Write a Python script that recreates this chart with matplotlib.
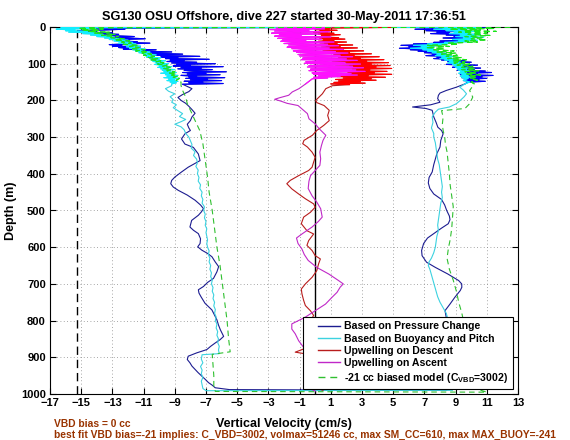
import numpy as np
import matplotlib.pyplot as plt
from matplotlib.lines import Line2D
from matplotlib.legend_handler import HandlerLine2D

plt.rcParams['font.family'] = ['Liberation Sans', 'DejaVu Sans']
plt.rcParams['font.weight'] = 'bold'
plt.rcParams['mathtext.fontset'] = 'custom'
plt.rcParams['mathtext.rm'] = 'Liberation Sans:bold'
plt.rcParams['mathtext.bf'] = 'Liberation Sans:bold'

title = "SG130 OSU Offshore, dive 227 started 30-May-2011 17:36:51"
vbd_note = "VBD bias = 0 cc"
fit_note = ("best fit VBD bias=-21 implies: C_VBD=3002, volmax=51246 cc, "
            "max SM_CC=610, max MAX_BUOY=-241")
labels = ["Based on Pressure Change", "Based on Buoyancy and Pitch",
          "Upwelling on Descent", "Upwelling on Ascent",
          r"-21 cc biased model (C$_{\mathrm{VBD}}$=3002)"]
vbd_bias_line = -15.3

# (depth m, vertical velocity cm/s)
pressure_dn = [(0.5, 11.0), (2, -9.0), (4, -14.0), (6, -12.2), (8, -13.5), (10, -15.2),
               (12, -14.0), (14, -15.3), (16, -13.0), (18, -14.2), (20, -12.6), (22, -13.5),
               (24, -12.9), (26, -11.6), (28, -12.8), (30, -12.2), (32, -10.9), (34, -12.5),
               (36, -11.9), (38, -12.7), (40, -11.4), (42, -12.3), (44, -10.6), (46, -12.0),
               (48, -13.2), (50, -12.4), (52, -13.0), (54, -11.2), (56, -12.6), (58, -11.8),
               (60, -12.3), (62, -10.2), (64, -11.5), (66, -10.8), (68, -9.2), (70, -10.9),
               (72, -10.1), (74, -8.5), (76, -10.4), (78, -9.6), (80, -7.4), (82, -9.9),
               (84, -8.8), (86, -9.6), (88, -6.8), (90, -9.3), (92, -8.4), (94, -9.5),
               (96, -7.6), (98, -9.2), (100, -6.4), (102, -8.9), (104, -8.0), (106, -9.1),
               (108, -5.9), (110, -8.6), (112, -7.3), (114, -8.8), (116, -6.6), (118, -8.4),
               (120, -7.8), (122, -5.7), (124, -8.5), (126, -7.0), (128, -8.2), (130, -6.1),
               (132, -8.6), (134, -7.6), (136, -8.1), (138, -5.8), (140, -8.3), (142, -6.9),
               (144, -8.0), (146, -6.0), (148, -8.4), (150, -7.2), (152, -8.1), (154, -5.9),
               (156, -8.5),
               (160, -8.3), (168, -7.9), (176, -8.1), (184, -8.5), (192, -8.8), (200, -8.6),
               (208, -8.3), (216, -8.1), (225, -7.9), (235, -7.7), (245, -7.9), (255, -8.0),
               (265, -8.2), (275, -8.1), (282, -8.0), (291, -8.35), (305, -8.57), (319, -8.35),
               (328, -7.81), (346, -7.49), (364, -7.38), (382, -8.14), (396, -8.6), (409, -9.0),
               (418, -9.2), (427, -9.26), (436, -9.1), (445, -8.78), (458, -8.2), (472, -7.7),
               (485, -7.35), (495, -7.16), (504, -7.3), (513, -7.49), (527, -7.92), (545, -8.03),
               (554, -7.8), (563, -7.49), (577, -7.35), (590, -7.38), (599, -7.53), (608, -7.27),
               (617, -6.9), (626, -6.62), (640, -6.41), (653, -6.19), (667, -6.3), (685, -6.52),
               (696, -6.9), (707, -7.16), (716, -7.49), (725, -7.45), (735, -7.32), (753, -7.06),
               (771, -6.62), (785, -6.45), (798, -6.3), (812, -6.2), (825, -6.08), (843, -5.87),
               (852, -6.1), (861, -6.41), (870, -6.7), (879, -6.95), (888, -7.6), (897, -8.14),
               (906, -8.2), (915, -8.03), (924, -7.9), (933, -7.7), (942, -7.5), (951, -7.27),
               (960, -7.05), (969, -6.84), (976, -6.6), (983, -6.41), (988, -5.5)]
pressure_up = [(2, 7.5), (4, 9.2), (6, 6.4), (8, 8.3), (10, 7.1), (12, 9.0), (14, 7.8),
               (16, 8.6), (18, 7.4), (20, 9.6), (22, 8.4), (24, 10.1), (26, 8.9), (28, 9.7),
               (30, 8.2), (32, 10.0), (34, 9.1), (36, 9.6), (38, 8.0), (40, 9.3), (42, 7.6),
               (44, 8.4), (46, 6.3), (48, 7.6), (50, 5.5), (52, 7.2), (54, 6.0), (56, 7.5),
               (58, 5.4), (60, 6.9), (62, 6.1), (64, 7.4), (66, 6.6), (68, 8.0), (70, 7.0),
               (72, 8.4), (74, 7.5), (76, 8.0), (78, 7.1), (80, 8.7), (82, 7.8), (84, 8.4),
               (86, 7.6), (88, 9.0), (90, 8.1), (92, 9.6), (94, 8.5), (96, 10.0), (98, 8.7),
               (100, 9.3), (102, 8.4), (104, 10.4), (106, 9.0), (108, 9.7), (110, 8.8),
               (112, 10.6), (114, 9.4), (116, 10.2), (118, 9.1), (120, 10.9), (122, 9.6),
               (124, 11.3), (126, 9.5), (128, 10.4), (130, 9.3), (132, 11.4), (134, 9.8),
               (136, 10.7), (138, 9.4), (140, 11.0), (142, 9.7), (144, 10.5), (146, 9.5),
               (148, 10.9), (150, 9.8),
               (155, 9.6), (164, 9.05), (173, 8.4), (180, 8.0), (186, 7.9), (195, 7.85),
               (205, 8.0), (212, 7.4), (218, 6.24), (222, 7.1), (227, 7.5), (245, 7.6),
               (260, 7.75), (273, 7.86), (282, 8.1), (291, 8.2), (309, 8.05), (327, 8.0),
               (345, 7.8), (360, 7.7), (375, 7.6), (395, 7.5), (410, 7.3), (425, 7.25),
               (440, 7.35), (455, 7.6), (470, 8.1), (485, 8.3), (500, 8.43), (515, 8.6),
               (525, 8.64), (536, 8.53), (548, 8.1), (560, 7.7), (575, 7.2), (590, 6.95),
               (609, 6.82), (623, 6.85), (641, 7.14), (655, 7.7), (664, 8.1), (673, 8.5),
               (682, 8.85), (691, 9.2), (700, 9.39), (709, 9.4), (718, 9.3), (736, 8.96),
               (755, 8.64), (773, 8.32), (791, 8.4), (810, 8.6), (830, 8.8), (850, 8.9),
               (870, 9.1), (890, 9.3), (910, 9.2), (930, 9.0), (950, 8.9), (970, 8.8),
               (985, 8.6), (990, 8.4)]

buoyancy_dn = [(0.5, 10.5), (2, -16.3), (4, -14.2), (6, -16.6), (8, -15.4), (10, -16.0),
               (12, -14.6), (14, -15.8), (16, -14.0), (18, -14.9), (20, -13.6), (22, -14.4),
               (24, -13.1), (26, -14.0), (28, -12.9), (30, -13.5), (32, -12.4), (34, -13.2),
               (36, -12.0), (38, -12.9), (40, -12.3), (42, -11.7), (44, -12.6), (46, -11.5),
               (48, -12.2), (50, -11.9), (52, -11.2), (54, -12.1), (56, -11.4), (58, -11.9),
               (60, -10.9), (62, -11.7), (64, -11.1), (66, -11.5), (68, -10.6), (70, -11.3),
               (72, -10.5), (74, -11.0), (76, -10.2), (78, -10.9), (80, -10.4), (82, -10.8),
               (84, -9.9), (86, -10.6), (88, -10.0), (90, -10.5), (92, -9.6), (94, -10.4),
               (96, -9.8), (98, -10.2), (100, -9.4), (102, -10.3), (104, -9.6), (106, -10.0),
               (108, -9.2), (110, -10.1), (112, -9.4), (114, -9.9), (116, -9.0), (118, -9.8),
               (120, -9.3), (122, -9.7), (124, -8.9), (126, -9.9), (128, -9.1), (130, -9.6),
               (132, -8.8), (134, -9.5), (136, -9.0), (138, -9.7), (140, -8.8), (142, -9.4),
               (144, -9.0), (146, -9.5), (148, -8.8), (150, -9.3), (152, -8.9), (155, -9.2),
               (160, -9.2), (168, -9.6), (175, -9.4), (182, -9.0), (190, -9.3), (198, -9.1),
               (205, -9.2), (212, -8.9), (220, -9.1), (228, -8.8), (236, -8.5), (244, -8.7),
               (252, -8.3), (258, -8.6), (265, -9.0), (272, -8.6), (280, -8.4), (290, -8.3),
               (300, -8.1), (310, -8.0), (320, -7.9), (330, -7.95), (340, -7.7), (350, -7.8),
               (360, -7.6), (370, -7.55), (380, -7.65), (390, -7.5), (400, -7.55), (410, -7.45),
               (420, -7.5), (430, -7.35), (440, -7.4), (450, -7.25), (460, -7.3), (470, -7.2),
               (480, -7.25), (490, -7.1), (500, -7.15), (510, -7.05), (520, -7.1), (530, -7.0),
               (540, -7.05), (550, -6.95), (560, -7.0), (570, -6.95), (580, -6.9), (590, -6.95),
               (600, -6.9), (610, -6.8), (620, -6.85), (630, -6.75), (640, -6.8), (650, -6.7),
               (660, -6.75), (670, -6.65), (680, -6.7), (690, -6.6), (700, -6.65), (710, -6.55),
               (720, -6.6), (730, -6.5), (740, -6.55), (750, -6.45), (760, -6.5), (770, -6.4),
               (780, -6.45), (790, -6.35), (800, -6.4), (810, -6.3), (820, -6.35), (830, -6.25),
               (840, -6.3), (850, -6.2), (860, -6.25), (870, -6.15), (880, -6.2), (890, -6.15),
               (893, -7.25), (905, -7.3), (915, -7.2), (925, -7.35), (935, -7.25), (945, -7.3),
               (955, -7.2), (965, -7.3), (975, -7.25), (985, -7.2), (991, -7.0)]
buoyancy_up = [(2, 8.2), (4, 10.3), (6, 7.6), (8, 9.6), (10, 8.4), (12, 10.5), (14, 8.9),
               (16, 9.9), (18, 8.6), (20, 10.6), (22, 9.3), (24, 10.2), (26, 9.0), (28, 10.8),
               (30, 9.5), (32, 10.1), (34, 8.8), (36, 10.4), (38, 9.2), (40, 9.7), (42, 8.3),
               (44, 8.9), (46, 7.2), (48, 8.1), (50, 6.3), (52, 7.7), (54, 6.8), (56, 7.4),
               (58, 6.1), (60, 7.6), (62, 6.9), (64, 7.8), (66, 7.2), (68, 8.1), (70, 7.5),
               (72, 8.4), (74, 7.8), (76, 8.6), (78, 7.7), (80, 8.8), (82, 8.1), (84, 8.7),
               (86, 8.0), (88, 9.0), (90, 8.3), (92, 9.1), (94, 8.6), (96, 9.3), (98, 8.5),
               (100, 9.4), (102, 8.8), (104, 9.6), (106, 8.9), (108, 9.5), (110, 9.0),
               (112, 9.8), (114, 9.1), (116, 9.7), (118, 9.2), (120, 9.9), (122, 9.3),
               (124, 9.7), (126, 9.2), (128, 9.9), (130, 9.4), (132, 9.8), (134, 9.3),
               (136, 10.0), (138, 9.4), (140, 9.8), (145, 9.5), (150, 9.9), (155, 9.6),
               (164, 9.27), (172, 9.5), (182, 9.7), (190, 9.55), (200, 9.3), (209, 9.05),
               (218, 8.6), (224, 7.9), (232, 7.7), (245, 7.5), (260, 7.55), (275, 7.45),
               (290, 7.6), (300, 7.6), (315, 7.7), (330, 7.75), (345, 7.8), (360, 7.85),
               (375, 7.95), (390, 8.0), (405, 8.05), (420, 8.1), (435, 8.15), (450, 8.1),
               (465, 8.15), (480, 8.05), (495, 8.0), (510, 7.95), (525, 7.9), (540, 7.85),
               (555, 7.9), (570, 7.8), (585, 7.75), (600, 7.7), (615, 7.6), (630, 7.45),
               (640, 7.3), (650, 7.25), (660, 7.35), (675, 7.45), (690, 7.55), (705, 7.65),
               (720, 7.75), (735, 7.85), (750, 8.0), (765, 8.2), (780, 8.4), (795, 8.5),
               (810, 8.6), (830, 8.7), (850, 8.75), (870, 8.8), (890, 8.9), (910, 8.95),
               (930, 9.0), (950, 8.95), (970, 8.9), (990, 8.8)]

model_dn = [(0.5, 12.5), (2, -14.5), (4, -15.2), (6, -13.6), (8, -15.0), (10, -13.9),
            (12, -14.6), (14, -13.2), (17, -14.2), (20, -12.8), (23, -13.7), (26, -12.6),
            (29, -13.1), (32, -12.2), (35, -12.9), (38, -11.9), (41, -12.4), (44, -11.8),
            (47, -12.3), (50, -11.4), (53, -11.9), (56, -11.3), (59, -11.7), (62, -10.9),
            (65, -11.5), (68, -10.7), (71, -11.1), (74, -10.5), (77, -11.0), (80, -10.3),
            (83, -10.7), (86, -10.1), (89, -10.6), (92, -9.9), (95, -10.2), (98, -9.7),
            (101, -10.1), (104, -9.5), (107, -9.8), (110, -9.3), (113, -9.7), (116, -9.2),
            (119, -9.5), (122, -9.0), (125, -9.4), (128, -8.9), (131, -9.2), (134, -8.8),
            (137, -9.1), (140, -8.7), (145, -8.9), (150, -8.6),
            (160, -8.6), (173, -8.5), (191, -8.3), (209, -8.2), (227, -8.0), (255, -7.7),
            (282, -7.4), (318, -7.2), (364, -7.05), (409, -6.9), (450, -6.8), (500, -6.6),
            (550, -6.45), (600, -6.3), (650, -6.1), (700, -5.95), (750, -5.8), (800, -5.65),
            (850, -5.55), (885, -5.45), (892, -6.6), (920, -6.55), (950, -6.5), (980, -6.5),
            (993, -6.4)]
model_up = [(2, 9.0), (4, 11.5), (6, 8.6), (8, 10.6), (10, 9.5), (12, 11.6), (14, 9.2),
            (17, 11.0), (20, 9.8), (23, 11.2), (26, 9.6), (29, 10.7), (32, 10.0), (35, 11.0),
            (38, 9.6), (41, 10.4), (44, 8.5), (47, 9.2), (50, 7.2), (53, 8.6), (56, 7.1),
            (59, 8.3), (62, 7.6), (65, 8.9), (68, 7.8), (71, 9.0), (74, 8.1), (77, 9.1),
            (80, 8.4), (83, 9.4), (86, 8.5), (89, 9.7), (92, 8.8), (95, 9.6), (98, 8.9),
            (101, 9.9), (104, 9.1), (107, 10.1), (110, 9.4), (113, 10.3), (116, 9.4),
            (119, 10.5), (122, 9.6), (125, 10.4), (128, 9.7), (131, 10.6), (134, 9.8),
            (137, 10.4), (140, 9.9), (145, 10.4), (150, 10.0), (155, 10.2),
            (173, 9.9), (191, 10.1), (209, 9.9), (222, 9.6), (228, 8.1), (245, 8.2),
            (265, 8.15), (282, 8.2), (300, 8.3), (320, 8.35), (340, 8.45), (360, 8.5),
            (380, 8.55), (400, 8.6), (430, 8.65), (460, 8.75), (490, 8.85), (520, 8.8),
            (550, 8.75), (580, 8.65), (600, 8.55), (630, 8.45), (660, 8.6), (690, 8.85),
            (720, 9.05), (750, 9.2), (780, 9.4), (800, 9.5), (830, 9.6), (860, 9.7),
            (890, 9.8), (920, 9.85), (950, 9.9), (980, 9.9), (995, 11.0)]

upwell_dn = [(1, 5.0), (3, 0.1), (5, 0.9), (7, 0.0), (9, 1.4), (11, 0.3), (13, 0.8),
             (15, -0.1), (17, 1.2), (19, 0.2), (21, 1.6), (23, 0.4), (25, 0.9), (27, 0.1),
             (29, 1.5), (31, 0.3), (33, 1.9), (35, 0.5), (37, 1.2), (39, 0.2), (41, 2.0),
             (43, 0.6), (45, 1.4), (47, 0.3), (49, 2.4), (51, 0.7), (53, 1.6), (55, 0.4),
             (57, 2.7), (59, 0.9), (61, 1.8), (63, 0.5), (65, 3.1), (67, 1.0), (69, 2.2),
             (71, 0.7), (73, 3.6), (75, 1.2), (77, 2.5), (79, 0.8), (81, 4.1), (83, 1.5),
             (85, 2.9), (87, 1.0), (89, 4.4), (91, 1.8), (93, 3.3), (95, 1.1), (97, 4.7),
             (99, 2.0), (101, 3.6), (103, 1.3), (105, 4.8), (107, 2.2), (109, 3.9),
             (111, 1.4), (113, 4.9), (115, 2.4), (117, 3.5), (119, 1.6), (121, 4.6),
             (123, 2.1), (125, 3.8), (127, 1.5), (129, 4.9), (131, 2.0), (133, 3.4),
             (135, 1.4), (137, 4.5), (139, 1.8), (141, 3.6), (143, 1.3), (145, 3.9),
             (147, 1.5), (149, 2.9), (151, 1.2), (153, 3.2), (155, 1.0), (157, 2.2),
             (160, 1.1), (168, 0.68), (182, 0.46), (191, 0.25), (200, 0.03), (206, 0.1),
             (214, 0.57), (227, 0.9), (241, 0.8), (255, 0.9), (268, 0.55), (282, 0.1),
             (295, -0.18), (309, -0.72), (318, -0.8), (327, -0.5), (341, -0.2), (355, 0.0),
             (368, -0.1), (382, -0.2), (391, -0.42), (405, -1.06), (418, -1.6), (427, -1.82),
             (441, -1.5), (455, -1.06), (468, -0.63), (482, -0.1), (491, 0.0), (505, -0.31),
             (518, -0.74), (536, -0.89), (555, -0.53), (564, -0.1), (582, -0.42), (595, -0.53),
             (609, -0.2), (623, 0.0), (632, 0.33), (645, 0.22), (664, 0.1), (682, -0.2),
             (700, -0.63), (714, -0.89), (727, -0.85), (745, -0.74), (759, -0.63), (773, -0.31),
             (786, -0.1), (800, -0.3), (820, -0.6), (840, -0.7), (860, -0.5), (875, -0.6),
             (886, -1.28), (890, -0.7), (900, -0.5), (920, -0.4), (936, -0.42), (960, -0.3),
             (980, -0.2), (990, 0.5)]
upwell_up = [(1, 1.0), (3, -2.5), (5, 0.6), (7, -2.9), (9, -0.4), (11, -2.6), (13, 0.9),
             (15, -1.8), (17, -2.8), (19, 0.3), (21, -2.3), (23, -0.9), (25, -2.6), (27, 1.0),
             (29, -1.7), (31, -2.4), (33, 0.4), (35, -2.1), (37, -0.6), (39, -2.2), (41, 1.2),
             (43, -1.5), (45, -2.0), (47, 0.8), (49, -1.7), (51, 1.5), (53, -1.2), (55, -1.8),
             (57, 0.9), (59, -1.5), (61, 1.8), (63, -0.8), (65, -1.4), (67, 1.3), (69, -1.2),
             (71, 2.1), (73, -0.5), (75, -1.1), (77, 1.6), (79, -1.0), (81, 2.4), (83, 0.0),
             (85, -0.8), (87, 2.0), (89, -0.9), (91, 2.7), (93, 0.3), (95, -0.6), (97, 1.9),
             (99, -0.7), (101, 2.9), (103, 0.6), (105, -0.4), (107, 2.4), (109, -0.5),
             (111, 3.1), (113, 0.9), (115, -0.3), (117, 2.6), (119, -0.4), (121, 3.2),
             (123, 1.0), (125, -0.2), (127, 2.3), (129, -0.1), (131, 2.7), (133, 0.2),
             (135, 1.6), (137, -0.1), (139, 0.8),
             (141, -0.18), (155, -0.61), (168, -1.04), (177, -1.47), (186, -1.7), (193, -2.3),
             (197, -2.6), (202, -2.2), (208, -1.8), (214, -1.1), (225, -0.8), (236, -0.5),
             (250, -0.4), (264, 0.0), (277, 0.25), (286, 0.46), (295, 0.68), (309, 0.5),
             (323, 0.4), (341, 0.3), (359, 0.35), (377, 0.3), (391, 0.0), (405, -0.3),
             (420, -0.4), (440, -0.45), (460, -0.2), (477, 0.1), (495, 0.35), (518, 0.45),
             (530, 0.2), (545, -0.2), (564, -0.85), (575, -1.2), (590, -1.1), (605, -0.85),
             (620, -0.7), (636, -0.45), (655, 0.1), (673, 0.87), (691, 1.5), (700, 1.8),
             (709, 1.6), (723, 1.4), (736, 1.09), (755, 0.66), (773, 0.0), (791, -0.65),
             (809, -1.5), (823, -1.5), (836, -1.28), (855, -1.06), (873, -0.74), (900, -0.42),
             (936, -0.42), (960, -0.5), (982, -0.53), (992, 0.0)]

# (dim colour for thin lines, bright colour for the dense near-surface part)
styles = [("#1c1c90", "#0000ff", "-"), ("#3cd2e0", "#10eeff", "-"),
          ("#b81c1c", "#ff0000", "-"), ("#c028c8", "#ff10ff", "-"),
          ("#30c030", "#18e818", (0, (5, 3.5)))]


def whole_dive(dn, up):
    # descent in time order, then the ascent from the bottom back to the surface
    pts = np.array(dn + up[::-1])
    return pts[:, 1], pts[:, 0]


fig = plt.figure(figsize=(5.7, 4.4), dpi=100)
ax = fig.add_axes([50 / 570, 1 - 394 / 440, 468 / 570, 367 / 440])

series = [whole_dive(pressure_dn, pressure_up),
          whole_dive(buoyancy_dn, buoyancy_up),
          whole_dive(upwell_dn, []),
          whole_dive([], upwell_up),
          whole_dive(model_dn, model_up)]

for (v, d), lab, (dim, bright, ls) in zip(series, labels, styles):
    ax.plot(v, d, color=dim, lw=0.8, ls=ls, label=lab, zorder=3)
    # the dense spiky part near the surface reads as a saturated colour
    top = d <= 158
    vv = np.where(top, v, np.nan)
    ax.plot(vv, d, color=bright, lw=0.8, ls=ls, zorder=3)

ax.axvline(vbd_bias_line, color="k", lw=1.0, ls=(0, (6, 3.5)), zorder=2)
ax.axvline(0, color="k", lw=1.0, zorder=2)

ax.set_xlim(-17, 13)
ax.set_ylim(1000, 0)
ax.set_xticks(np.arange(-17, 14, 2))
ax.set_yticks(np.arange(0, 1001, 100))
ax.grid(True, color="#8a8a8a", lw=0.6, ls=(0, (1, 3)))
ax.tick_params(direction="in", top=True, right=True, length=4, width=0.8,
               labelsize=8, pad=3)
for s in ax.spines.values():
    s.set_linewidth(0.8)

ax.set_title(title, fontsize=9.2, fontweight="bold", pad=5)
ax.set_xlabel("Vertical Velocity (cm/s)", fontsize=9, fontweight="bold")
ax.xaxis.set_label_coords(0.5, -0.066)
ax.set_ylabel("Depth (m)", fontsize=9, fontweight="bold")
ax.yaxis.set_label_coords(-0.07, 0.5)

leg = ax.legend(loc="lower right", fontsize=7.6, frameon=True, fancybox=False,
                framealpha=1, edgecolor="k", handlelength=3.1, borderaxespad=0.5,
                labelspacing=0.22, handletextpad=0.4, borderpad=0.4,
                handler_map={Line2D: HandlerLine2D(xpad=1.0)})
leg.get_frame().set_linewidth(0.8)
for line in leg.get_lines():
    line.set_linewidth(1.0)

fig.text(54 / 570, 1 - 424 / 440, vbd_note, color="#993300", fontsize=7.4,
         fontweight="bold", va="center")
fig.text(54 / 570, 1 - 435 / 440, fit_note, color="#993300", fontsize=7.4,
         fontweight="bold", va="center")

fig.savefig("out.png", dpi=100)
